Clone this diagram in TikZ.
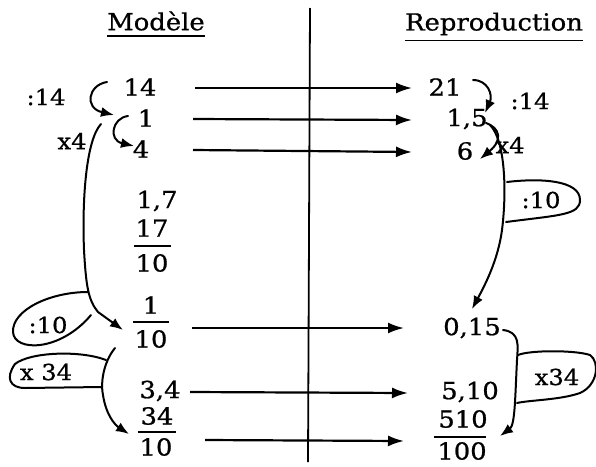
\documentclass[tikz,border=0pt]{standalone}
\usepackage{fontspec}
\setmainfont{DejaVu Serif}[FakeStretch=1.1,FakeBold=0.8]
\usetikzlibrary{arrows.meta}
\begin{document}
\begin{tikzpicture}[x=1pt,y=-1pt,
  txt/.style={font=\fontsize{23.5}{26}\selectfont, inner sep=0pt},
  lbl/.style={font=\fontsize{22}{24}\selectfont, inner sep=0pt},
  harr/.style={line width=2.2pt, -{Latex[length=16pt,width=11pt]}},
  hand/.style={line width=2pt, line cap=round},
  handarr/.style={line width=2pt, line cap=round, -{Latex[length=13pt,width=10pt]}},
  fbar/.style={line width=1.8pt}]
\useasboundingbox (0,0) rectangle (596,466);
% headings
\node[txt] (mod) at (156,21) {Modèle};
\node[txt] (rep) at (494,24) {Reproduction};
\draw[fbar] ([yshift=-5pt]mod.south west) -- ([yshift=-5pt]mod.south east);
\draw[fbar] ([yshift=-5pt]rep.south west) -- ([yshift=-5pt]rep.south east);
% vertical separator
\coordinate (vtop) at (310,8);
\coordinate (vbot) at (308,462);
\draw[line width=1.8pt] (vtop) -- (vbot);
% left column
\node[txt] (l14) at (140,87) {14};
\node[txt] (l1) at (146,118) {1};
\node[txt] (l4) at (141,149) {4};
\node[txt] (l17) at (157,201) {1,7};
\node[txt] (f17n) at (152,228) {17};
\node[txt] (f17d) at (152,263) {10};
\draw[fbar] (134,246) -- (171,246);
\node[txt] (f1n) at (151,305) {1};
\node[txt] (f1d) at (151,339) {10};
\draw[fbar] (133,322) -- (169,322);
\node[txt] (l34) at (160,391) {3,4};
\node[txt] (f34n) at (157,416) {34};
\node[txt] (f34d) at (156,447) {10};
\draw[fbar] (138,432) -- (176,432);
% right column
\node[txt] (r21) at (445,87) {21};
\node[txt] (r15) at (467,119) {1,5};
\node[txt] (r6) at (465,151) {6};
\node[txt] (r015) at (472,328) {0,15};
\node[txt] (r510) at (470,392) {5,10};
\node[txt] (f510n) at (463,419) {510};
\node[txt] (f510d) at (462,451) {100};
\draw[fbar] (434,437) -- (486,437);
% operator labels
\node[lbl] (lop14) at (46,97) {:14};
\node[lbl] (lopx4) at (72,141) {x4};
\node[lbl] (lop10) at (48,325) {:10};
\node[lbl] (lop34) at (46,372) {x 34};
\node[lbl] (rop14) at (530,101) {:14};
\node[lbl] (ropx4) at (510,145) {x4};
\node[lbl] (rop10) at (541,200) {:10};
\node[lbl] (rop34) at (557,377) {x34};
% horizontal arrows
\coordinate (s1) at (195,88);  \coordinate (e1) at (412,88);
\coordinate (s2) at (193,119); \coordinate (e2) at (412,120);
\coordinate (s3) at (193,150); \coordinate (e3) at (412,152);
\coordinate (s4) at (192,328); \coordinate (e4) at (404,328);
\coordinate (s5) at (190,392); \coordinate (e5) at (408,393);
\coordinate (s6) at (205,440); \coordinate (e6) at (404,441);
\draw[harr] (s1) -- (e1);
\draw[harr] (s2) -- (e2);
\draw[harr] (s3) -- (e3);
\draw[harr] (s4) -- (e4);
\draw[harr] (s5) -- (e5);
\draw[harr] (s6) -- (e6);
% left hand-drawn arrows
\draw[handarr] (107,82) .. controls (88,85) and (84,108) .. (114,115);
\draw[handarr] (128,116) .. controls (112,118) and (108,140) .. (134,146);
\draw[handarr] (101,124) .. controls (86,140) and (82,200) .. (84,250)
  .. controls (86,285) and (88,300) .. (98,312) -- (123,330);
\draw[hand] (88,292) .. controls (50,292) and (12,310) .. (13,332)
  .. controls (14,352) and (60,352) .. (91,315);
\draw[handarr] (115,348) .. controls (105,360) and (100,380) .. (103,395)
  .. controls (106,415) and (115,425) .. (129,434);
\draw[hand] (106,360) .. controls (80,350) and (30,352) .. (15,364)
  .. controls (5,378) and (10,388) .. (25,388) -- (102,387);
% right hand-drawn arrows
\draw[handarr] (473,80) .. controls (488,80) and (493,95) .. (485,113);
\draw[handarr] (486,123) .. controls (500,128) and (503,140) .. (480,159);
\draw[handarr] (490,125) .. controls (505,140) and (507,190) .. (502,230)
  .. controls (498,260) and (485,285) .. (472,309);
\draw[hand] (507,182) .. controls (540,178) and (580,180) .. (580,200)
  .. controls (580,215) and (560,215) .. (506,222);
\draw[handarr] (503,330) .. controls (520,332) and (518,345) .. (517,360)
  .. controls (515,400) and (515,425) .. (500,436);
\draw[hand] (518,355) .. controls (530,350) and (575,350) .. (590,355)
  .. controls (600,362) and (598,385) .. (580,393)
  .. controls (560,400) and (530,400) .. (517,403);
\end{tikzpicture}
\end{document}
